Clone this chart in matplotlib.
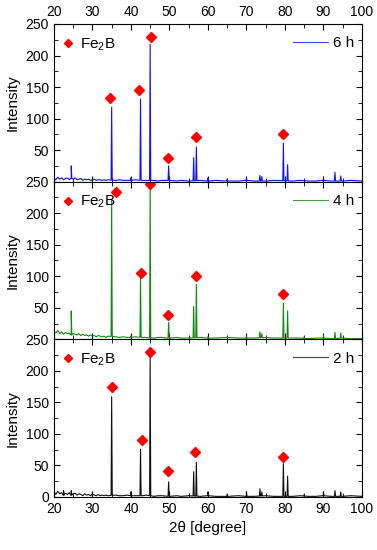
import matplotlib
matplotlib.use("Agg")
import matplotlib.pyplot as plt
import numpy as np
from matplotlib.ticker import MultipleLocator
from matplotlib.lines import Line2D

plt.rcParams["font.family"] = ["Liberation Sans", "DejaVu Sans"]
plt.rcParams["mathtext.fontset"] = "custom"
plt.rcParams["mathtext.rm"] = "Liberation Sans"
plt.rcParams["mathtext.it"] = "Liberation Sans"

# sample labels and trace colours (top to bottom)
labels = ["6 h", "4 h", "2 h"]
colors = ["#1010ff", "#108a10", "#111111"]

# background (two-theta, counts)
bg_x = [20, 20.5, 21, 21.5, 22, 22.5, 23, 23.5, 24, 24.5, 25, 25.5, 26, 26.5, 27, 27.5,
        28, 28.5, 29, 29.5, 30, 30.5, 31, 31.5, 32, 32.5, 33, 33.5, 34, 36, 37, 38, 39,
        40, 41, 43, 44, 46, 47, 48, 50, 52, 53, 55, 58, 60, 62, 65, 68, 70, 72, 75, 77,
        82, 84, 86, 88, 90, 92, 95, 97, 100]
bg_6h = [6, 3, 7, 4, 6, 3, 5, 6, 3, 5, 4, 6, 3, 4, 5, 2, 4, 3, 4, 2, 3, 4, 2, 3, 3, 2,
         3, 2, 3, 2, 3, 2, 2, 2, 3, 2, 2, 2, 1, 2, 2, 1, 2, 1, 2, 1, 2, 1, 1, 2, 1, 1, 2,
         1, 2, 1, 1, 2, 1, 1, 2, 1]
bg_4h = [13, 10, 14, 9, 12, 8, 11, 9, 10, 7, 9, 8, 7, 9, 6, 8, 6, 7, 5, 7, 5, 6, 4, 6,
         5, 4, 5, 3, 5, 4, 3, 4, 3, 3, 4, 3, 3, 2, 3, 3, 2, 3, 2, 2, 3, 2, 2, 3, 2, 2, 2,
         3, 2, 2, 2, 1, 2, 2, 1, 2, 1, 1]
bg_2h = [8, 4, 9, 5, 7, 3, 6, 4, 7, 3, 5, 6, 3, 5, 4, 2, 5, 3, 4, 2, 4, 3, 2, 4, 2, 3,
         2, 3, 2, 3, 2, 2, 3, 2, 2, 2, 3, 1, 2, 2, 1, 2, 1, 2, 1, 2, 1, 1, 2, 1, 1, 2, 1,
         1, 2, 1, 1, 2, 1, 1, 2, 1]

# diffraction peaks (two-theta, counts)
pk_6h_x = [24.5, 35.0, 40.0, 42.5, 45.0, 49.8, 56.3, 57.0, 60.0, 65.0, 70.0, 73.5, 74.0, 79.6, 80.7, 90.0, 93.0, 94.5]
pk_6h_y = [25, 118, 6, 131, 218, 25, 38, 55, 6, 4, 5, 10, 8, 61, 27, 5, 15, 9]
pk_4h_x = [24.5, 35.0, 40.0, 42.5, 45.0, 49.8, 56.3, 57.0, 60.0, 70.0, 73.5, 74.0, 79.6, 80.7, 85.0, 90.0, 93.0, 94.5]
pk_4h_y = [45, 221, 5, 100, 245, 27, 52, 87, 4, 5, 12, 9, 57, 45, 4, 6, 11, 10]
pk_2h_x = [22.5, 24.5, 30.0, 35.0, 40.0, 42.5, 45.0, 49.8, 56.3, 57.0, 60.0, 65.0, 70.0, 73.5, 74.0, 79.6, 80.7, 85.0, 90.0, 93.0, 94.5]
pk_2h_y = [10, 10, 6, 159, 8, 76, 223, 24, 40, 55, 8, 4, 8, 13, 8, 53, 33, 4, 8, 10, 8]

# Fe2B marker positions (two-theta, counts)
mk_6h_x = [34.5, 42.0, 45.3, 49.6, 57.0, 79.5]
mk_6h_y = [132, 145, 230, 38, 71, 75]
mk_4h_x = [36.0, 42.5, 45.0, 49.6, 57.0, 79.5]
mk_4h_y = [233, 105, 246, 38, 100, 72]
mk_2h_x = [35.0, 43.0, 45.0, 49.6, 56.7, 79.5]
mk_2h_y = [175, 91, 230, 41, 71, 63]

bgs = [bg_6h, bg_4h, bg_2h]
peaks = [(pk_6h_x, pk_6h_y), (pk_4h_x, pk_4h_y), (pk_2h_x, pk_2h_y)]
marks = [(mk_6h_x, mk_6h_y), (mk_4h_x, mk_4h_y), (mk_2h_x, mk_2h_y)]


def trace(bg, px, py, w=0.15):
    xs = list(bg_x)
    ys = list(bg)
    for p, h in zip(px, py):
        foot = np.interp(p, bg_x, bg)
        xs += [p - w, p, p + w]
        ys += [foot, h, foot]
    order = np.argsort(xs, kind="stable")
    return np.array(xs)[order], np.array(ys)[order]


fig = plt.figure(figsize=(3.77, 5.5), dpi=100)
left, width = 0.143, 0.817
bottom, total = 0.0964, 0.86
h = total / 3

for i in range(3):
    ax = fig.add_axes([left, bottom + (2 - i) * h, width, h])
    x, y = trace(bgs[i], *peaks[i])
    ax.plot(x, y, color=colors[i], lw=0.8)
    ax.plot(marks[i][0], marks[i][1], "D", color="red", ms=5.5, ls="none")

    ax.set_xlim(20, 100)
    ax.set_ylim(0, 250)
    ax.xaxis.set_major_locator(MultipleLocator(10))
    ax.xaxis.set_minor_locator(MultipleLocator(5))
    ax.yaxis.set_major_locator(MultipleLocator(50))
    ax.yaxis.set_minor_locator(MultipleLocator(25))
    ax.tick_params(which="both", direction="in", top=True, right=True, labelsize=10)
    ax.tick_params(which="major", length=4)
    ax.tick_params(which="minor", length=3)
    ax.tick_params(axis="x", labeltop=(i == 0), labelbottom=(i == 2))
    if i < 2:
        ax.set_yticks([50, 100, 150, 200, 250])
    ax.set_ylabel("Intensity", fontsize=11)

    fe = Line2D([], [], color="red", marker="D", ls="none", ms=4.5)
    leg1 = ax.legend([fe], ["Fe$_2$B"], loc="upper left", bbox_to_anchor=(0, 0.97),
                     frameon=False, fontsize=11, handlelength=0.8, handletextpad=0.4,
                     borderaxespad=0.1, borderpad=0.4)
    ax.add_artist(leg1)
    ln = Line2D([], [], color=colors[i], lw=0.8, alpha=0.8)
    ax.legend([ln], [labels[i]], loc="upper right", bbox_to_anchor=(1, 0.97),
              frameon=False, fontsize=11, handlelength=2.3, handletextpad=0.3,
              borderaxespad=0.1, borderpad=0.4)

    if i == 2:
        ax.set_xlabel("2θ [degree]", fontsize=11)

fig.savefig("out.png", dpi=100)
